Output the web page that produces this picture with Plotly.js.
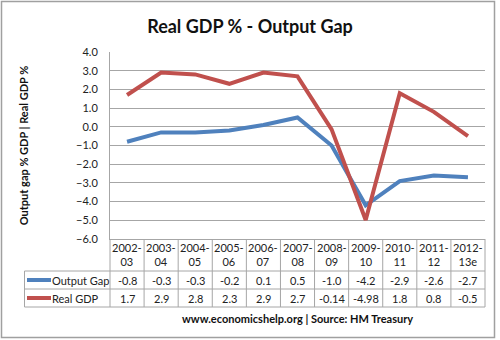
<!DOCTYPE html>
<html>
<head>
<meta charset="utf-8">
<script src="https://cdn.plot.ly/plotly-3.0.1.min.js"></script>
<style>html,body{margin:0;padding:0;background:#fff;}#chart{width:500px;height:340px;}</style>
</head>
<body>
<div id="chart"></div>
<script>
const categories = ["2002-03","2003-04","2004-05","2005-06","2006-07","2007-08","2008-09","2009-10","2010-11","2011-12","2012-13e"];
const outputGap = [-0.8,-0.3,-0.3,-0.2,0.1,0.5,-1.0,-4.2,-2.9,-2.6,-2.7];
const realGDP = [1.7,2.9,2.8,2.3,2.9,2.7,-0.14,-4.98,1.8,0.8,-0.5];
const seriesNames = ["Output Gap","Real GDP"];
const seriesColors = ["#4F81BD","#C0504D"];
const yTicks = [-6,-5,-4,-3,-2,-1,0,1,2,3,4];

const FONT = "Lato, 'Open Sans', sans-serif";
const fmt = v => { const s = String(v); return s.indexOf('.') < 0 ? s + '.0' : s; };

// layout geometry (pixels -> paper)
const L = 110, R = 15, T = 52, B = 101, W = 500, H = 340;
const pw = W - L - R, ph = H - T - B;
const px = p => (p - L) / pw;
const py = p => (H - B - p) / ph;

const rowTops = [239, 271, 289, 307];
const rowMid = [255, 280, 298];
const gridCol = "#a6a6a6";

const traces = [outputGap, realGDP].map((vals, i) => ({
  type: "scatter", mode: "lines", x: categories, y: vals, name: seriesNames[i],
  line: {color: seriesColors[i], width: 4}, hoverinfo: "skip", showlegend: false
}));

const shapes = [];
const annotations = [];
// outer frame
shapes.push({type: "rect", xref: "paper", yref: "paper", x0: px(1.5), x1: px(494.5), y0: py(1.5), y1: py(337.5), line: {color: "#a0a0a0", width: 1.5}, fillcolor: "rgba(0,0,0,0)", layer: "below"});
// table vertical lines
for (let k = 0; k <= categories.length; k++) {
  shapes.push({type: "line", xref: "paper", yref: "paper", x0: k / categories.length, x1: k / categories.length, y0: py(rowTops[0]), y1: py(rowTops[3]), line: {color: gridCol, width: 1}});
}
// legend column left line
shapes.push({type: "line", xref: "paper", yref: "paper", x0: px(24.5), x1: px(24.5), y0: py(rowTops[1]), y1: py(rowTops[3]), line: {color: gridCol, width: 1}});
// table horizontal lines
for (let r = 1; r < rowTops.length; r++) {
  shapes.push({type: "line", xref: "paper", yref: "paper", x0: px(24.5), x1: 1, y0: py(rowTops[r]), y1: py(rowTops[r]), line: {color: gridCol, width: 1}});
}
// header cells
categories.forEach((c, i) => {
  annotations.push({xref: "x", yref: "paper", x: c, y: py(rowMid[0]), text: c.replace("-", "-<br>"), showarrow: false, font: {family: FONT, size: 11, color: "#222"}, yanchor: "middle"});
});
// data rows
[outputGap, realGDP].forEach((vals, r) => {
  vals.forEach((v, i) => {
    annotations.push({xref: "x", yref: "paper", x: categories[i], y: py(rowMid[r + 1]), text: fmt(v), showarrow: false, font: {family: FONT, size: 11, color: "#222"}, yanchor: "middle"});
  });
  shapes.push({type: "line", xref: "paper", yref: "paper", x0: px(27), x1: px(51), y0: py(rowMid[r + 1]), y1: py(rowMid[r + 1]), line: {color: seriesColors[r], width: 4}});
  annotations.push({xref: "paper", yref: "paper", x: px(50), y: py(rowMid[r + 1]), text: seriesNames[r], showarrow: false, xanchor: "left", yanchor: "middle", font: {family: FONT, size: 11, color: "#222"}});
});
// source
annotations.push({xref: "paper", yref: "paper", x: px(297), y: py(318), text: "www.economicshelp.org | Source: HM Treasury", showarrow: false, xanchor: "center", yanchor: "middle", font: {family: FONT, size: 11, color: "#111", weight: "bold"}});

const layout = {
  width: W, height: H,
  margin: {l: L, r: R, t: T, b: B, pad: 0},
  paper_bgcolor: "#fff", plot_bgcolor: "#fff",
  title: {text: "<b>Real GDP % - Output Gap</b>", x: 0.5, xanchor: "center", xref: "container", y: 1 - 27 / H, yanchor: "middle", font: {family: FONT, size: 18, color: "#111"}},
  xaxis: {type: "category", range: [-0.5, categories.length - 0.5], showticklabels: false, showgrid: false, zeroline: false, showline: true, linecolor: gridCol, linewidth: 1, ticks: "", fixedrange: true},
  yaxis: {range: [-6, 4], tickvals: yTicks, tickformat: ".1f", showgrid: true, gridcolor: gridCol, gridwidth: 1, zeroline: false, showline: true, linecolor: gridCol, linewidth: 1, ticks: "", ticklabelstandoff: 9,
    tickfont: {family: FONT, size: 11, color: "#222"},
    title: {text: "<b>Output gap % GDP | Real GDP %</b>", standoff: 45, font: {family: FONT, size: 11, color: "#111"}}, automargin: false, fixedrange: true},
  shapes: shapes, annotations: annotations, showlegend: false
};

Plotly.newPlot("chart", traces, layout, {displayModeBar: false, staticPlot: true});
</script>
</body>
</html>
